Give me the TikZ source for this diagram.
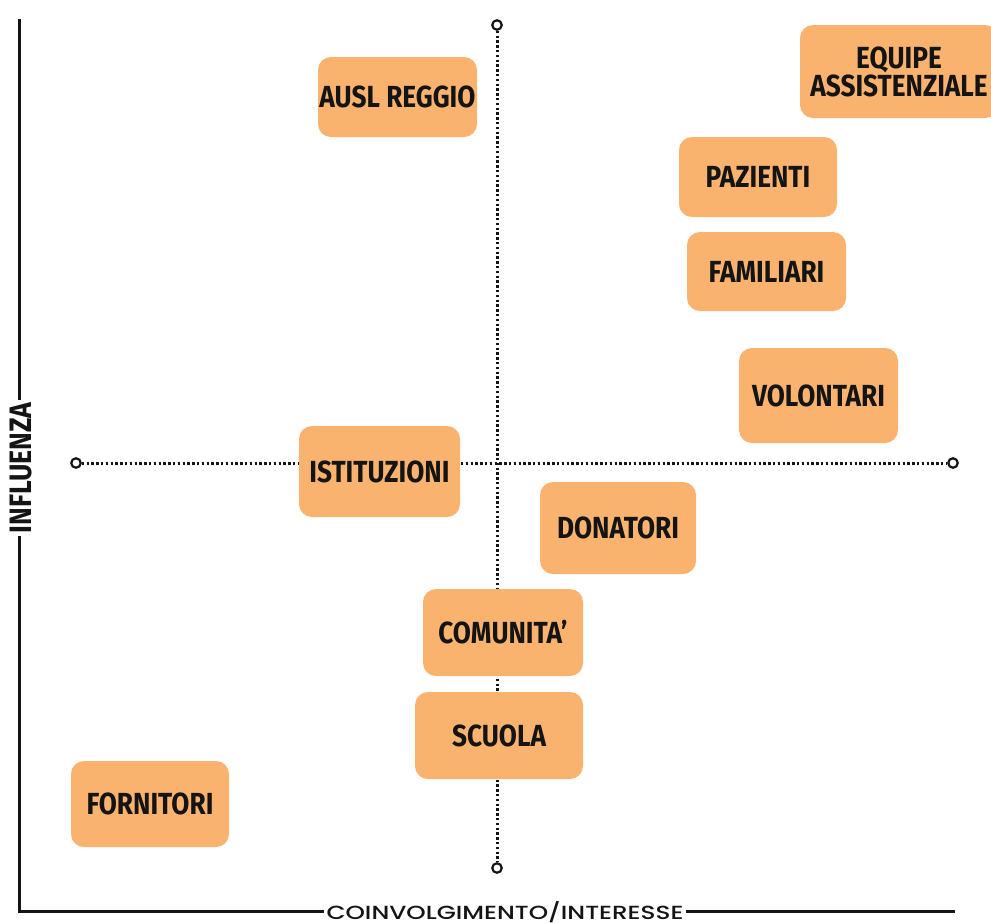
\documentclass[tikz,border=0pt]{standalone}
\usepackage{fontspec}
\newfontfamily\boxfont[FakeStretch=0.86]{Fira Sans}
\newfontfamily\axisfont[FakeStretch=1.3]{Poppins Medium}
\definecolor{boxorange}{HTML}{F9B36E}
\definecolor{ink}{HTML}{141414}
\tikzset{
  sbox/.style={fill=boxorange, rounded corners=13pt, inner sep=0pt, align=center,
    text=ink, font=\boxfont\bfseries\fontsize{30.5}{28}\selectfont},
  dotline/.style={line width=3pt, dash pattern=on 2.4pt off 2.4pt, ink},
  endcirc/.style={circle, draw=ink, line width=2.2pt, fill=white, minimum size=9.5pt, inner sep=0pt},
  axisline/.style={line width=3pt, ink},
  axislabel/.style={fill=white, inner xsep=3pt, inner ysep=1pt, text=ink}
}
\begin{document}
\begin{tikzpicture}[x=1pt,y=-1pt]
\useasboundingbox[fill=white] (0,0) rectangle (991,922);
% axes
\coordinate (ytop) at (19,19);
\coordinate (orig) at (19,911);
\coordinate (xend) at (955,911);
\draw[axisline] (ytop) -- (orig) -- (xend);
\node[axislabel, rotate=90, font=\boxfont\bfseries\fontsize{31}{32}\selectfont] (ylab) at (21,468) {INFLUENZA};
\node[axislabel, font=\axisfont\fontsize{19}{20}\selectfont] (xlab) at (505,912) {COINVOLGIMENTO/INTERESSE};
% dotted cross
\node[endcirc] (ct) at (497,25) {};
\node[endcirc] (cb) at (497,868) {};
\node[endcirc] (cl) at (76,463) {};
\node[endcirc] (cr) at (953,463) {};
\draw[dotline] (ct) -- (cb);
\draw[dotline] (cl) -- (cr);
% boxes
\node[sbox, minimum width=159pt, minimum height=80pt] (ausl) at (397.5,97) {AUSL REGGIO};
\node[sbox, minimum width=198pt, minimum height=93pt] (equipe) at (899,71.5) {EQUIPE\\ASSISTENZIALE};
\node[sbox, minimum width=158pt, minimum height=80pt] (paz) at (758,177) {PAZIENTI};
\node[sbox, minimum width=159pt, minimum height=79pt] (fam) at (766.5,271.5) {FAMILIARI};
\node[sbox, minimum width=159pt, minimum height=95pt] (vol) at (818.5,395.5) {VOLONTARI};
\node[sbox, minimum width=161pt, minimum height=91pt] (ist) at (379.5,471.5) {ISTITUZIONI};
\node[sbox, minimum width=156pt, minimum height=92pt] (don) at (618,528) {DONATORI};
\node[sbox, minimum width=160pt, minimum height=87pt] (com) at (503,632.5) {COMUNITA’};
\node[sbox, minimum width=168pt, minimum height=87pt] (scu) at (499,735.5) {SCUOLA};
\node[sbox, minimum width=158pt, minimum height=86pt] (forn) at (150,804) {FORNITORI};
\end{tikzpicture}
\end{document}
